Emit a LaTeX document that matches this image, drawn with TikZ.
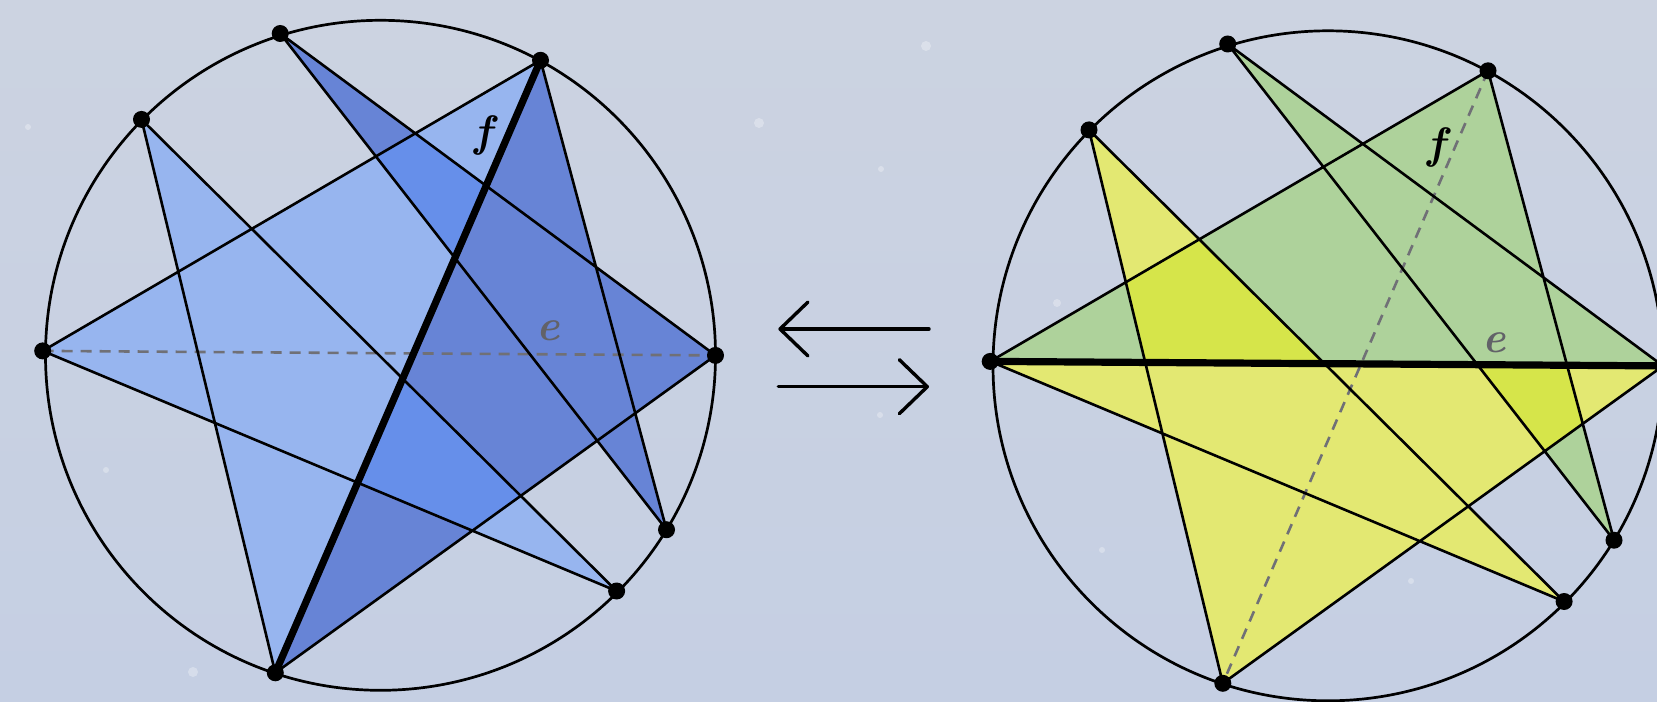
\documentclass[tikz,border=0pt]{standalone}
\usetikzlibrary{arrows.meta}
\definecolor{bgtop}{RGB}{204,211,225}
\definecolor{bgbot}{RGB}{197,207,227}
\definecolor{lightblue}{RGB}{151,181,239}
\definecolor{slateblue}{RGB}{103,132,214}
\definecolor{brightblue}{RGB}{102,143,234}
\definecolor{softgreen}{RGB}{174,210,155}
\definecolor{softyellow}{RGB}{227,232,114}
\definecolor{limeyellow}{RGB}{214,229,74}
\definecolor{labgray}{RGB}{98,98,104}
\definecolor{dashgray}{RGB}{112,112,118}
\begin{document}
\begin{tikzpicture}[x=0.5pt,y=-0.5pt,
  chord/.style={line width=1.3pt,black},
  ring/.style={line width=1.35pt,black},
  diagthick/.style={line width=3.6pt,black,line cap=round},
  ghost/.style={line width=1.3pt,dashgray,dash pattern=on 5.5pt off 4pt},
  vertex/.style={circle,fill=black,inner sep=0pt,minimum size=8.5pt},
  lab/.style={font=\fontsize{22}{26}\selectfont\bfseries\itshape},
  flip/.style={line width=1.7pt,line cap=round,line join=round,
    -{Straight Barb[length=14pt,width=27pt,line cap=round,line join=round]}},
  speck/.style={fill=white,opacity=0.3},
]
\useasboundingbox (0,0) rectangle (1657,701);
\shade[top color=bgtop,bottom color=bgbot] (0,0) rectangle (1657,701);
\clip (0,0) rectangle (1657,701);
% faint snow specks
\fill[speck] (759,123) circle[radius=5];
\fill[speck] (926,46) circle[radius=5];
\fill[speck] (881,169) circle[radius=3];
\fill[speck] (193,672) circle[radius=5];
\fill[speck] (106,470) circle[radius=3];
\fill[speck] (1057,303) circle[radius=4];
\fill[speck] (1102,550) circle[radius=3];
\fill[speck] (1411,581) circle[radius=3];
\fill[speck] (28,127) circle[radius=3];
\fill[speck] (880,415) circle[radius=3];
% ---------------- left diagram ----------------
\coordinate (O) at (380.5,355.3);
\coordinate (A) at (280.2,33.5);
\coordinate (B) at (540.5,60.3);
\coordinate (C) at (141.5,119.4);
\coordinate (D) at (42.7,350.9);
\coordinate (E) at (715.5,355.4);
\coordinate (F) at (666.5,529.7);
\coordinate (G) at (616.6,591.0);
\coordinate (H) at (275.3,672.8);
\fill[lightblue] (H)--(C)--(G)--(D)--(B)--cycle;
\fill[slateblue] (B)--(F)--(A)--(E)--(H)--cycle;
\begin{scope}
  \clip (H)--(C)--(G)--(D)--(B)--cycle;
  \fill[brightblue] (B)--(F)--(A)--(E)--(H)--cycle;
\end{scope}
\draw[ghost] (D) -- (E);
\draw[chord] (A)--(E) (E)--(H) (H)--(C) (C)--(G) (G)--(D) (D)--(B) (B)--(F) (F)--(A);
\draw[diagthick] (B) -- (H);
\draw[ring] (O) circle[radius=335];
\foreach \p in {A,B,C,D,E,F,G,H} \node[vertex] (d\p) at (\p) {};
\node[lab,text=black] (fL) at (483,135) {f};
\node[lab,text=labgray] (eL) at (548,331) {e};
% ---------------- arrows ----------------
\coordinate (la1) at (929,329);
\coordinate (la2) at (778.3,329);
\coordinate (ra1) at (778.3,386.7);
\coordinate (ra2) at (929,386.7);
\draw[flip] (la1) -- (la2);
\draw[flip] (ra1) -- (ra2);
% ---------------- right diagram ----------------
\begin{scope}[shift={(947.5,10.5)}]
\coordinate (O2) at (380.5,355.3);
\coordinate (A2) at (280.2,33.5);
\coordinate (B2) at (540.5,60.3);
\coordinate (C2) at (141.5,119.4);
\coordinate (D2) at (42.7,350.9);
\coordinate (E2) at (715.5,355.4);
\coordinate (F2) at (666.5,529.7);
\coordinate (G2) at (616.6,591.0);
\coordinate (H2) at (275.3,672.8);
\end{scope}
\fill[softyellow] (E2)--(H2)--(C2)--(G2)--(D2)--cycle;
\fill[softgreen] (D2)--(B2)--(F2)--(A2)--(E2)--cycle;
\begin{scope}
  \clip (E2)--(H2)--(C2)--(G2)--(D2)--cycle;
  \fill[limeyellow] (D2)--(B2)--(F2)--(A2)--(E2)--cycle;
\end{scope}
\draw[ghost] (B2) -- (H2);
\draw[chord] (A2)--(E2) (E2)--(H2) (H2)--(C2) (C2)--(G2) (G2)--(D2) (D2)--(B2) (B2)--(F2) (F2)--(A2);
\draw[diagthick] (D2) -- (E2);
\draw[ring] (O2) circle[radius=335];
\foreach \p in {A2,B2,C2,D2,E2,F2,G2,H2} \node[vertex] (d\p) at (\p) {};
\node[lab,text=black] (fR) at (1436,147) {f};
\node[lab,text=labgray] (eR) at (1494,343) {e};
\end{tikzpicture}
\end{document}
